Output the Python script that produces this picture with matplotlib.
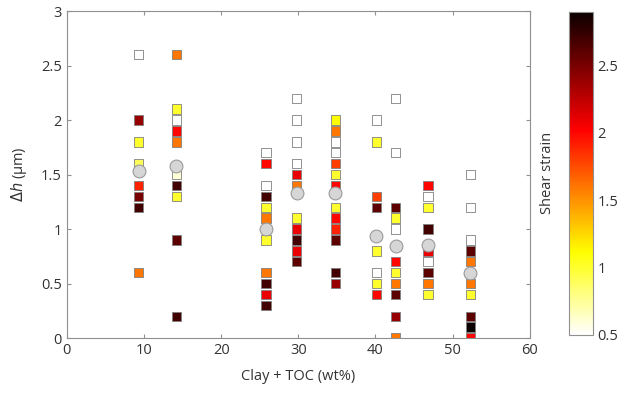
import numpy as np
import matplotlib.pyplot as plt

plt.rcParams['font.family'] = ['Open Sans', 'DejaVu Sans']

# clay + TOC content of each sample (wt%)
clay_toc = [9.3, 14.2, 25.8, 29.8, 34.8, 40.1, 42.6, 46.8, 52.3]

# step heights measured per sample (um)
dh = [
    [2.6, 2.0, 1.8, 1.6, 1.4, 1.3, 1.2, 0.6],
    [2.6, 2.1, 2.0, 1.9, 1.8, 1.5, 1.4, 1.3, 0.9, 0.2],
    [1.7, 1.6, 1.4, 1.3, 1.2, 1.1, 0.9, 0.6, 0.5, 0.4, 0.3],
    [2.2, 2.0, 1.8, 1.6, 1.5, 1.4, 1.1, 1.0, 0.9, 0.8, 0.7],
    [2.0, 1.9, 1.8, 1.7, 1.6, 1.5, 1.4, 1.2, 1.1, 1.0, 0.9, 0.6, 0.5],
    [2.0, 1.8, 1.3, 1.2, 0.8, 0.6, 0.5, 0.4],
    [2.2, 1.7, 1.2, 1.1, 1.0, 0.7, 0.6, 0.5, 0.4, 0.2, 0.0],
    [1.4, 1.3, 1.2, 1.0, 0.8, 0.7, 0.6, 0.5, 0.4],
    [1.5, 1.2, 0.9, 0.8, 0.7, 0.5, 0.4, 0.2, 0.1, 0.0],
]

# shear strain of each measurement
strain = [
    [0.5, 2.4, 1.0, 0.9, 1.9, 2.5, 2.7, 1.6],
    [1.6, 1.0, 0.5, 2.0, 1.6, 0.6, 2.7, 1.0, 2.6, 2.7],
    [0.5, 2.0, 0.5, 2.7, 1.0, 1.6, 1.0, 1.6, 2.7, 2.1, 2.7],
    [0.5, 0.5, 0.5, 0.5, 2.1, 1.6, 1.0, 2.1, 2.7, 2.1, 2.6],
    [1.1, 1.6, 0.5, 0.5, 1.8, 1.0, 2.0, 1.0, 2.0, 1.9, 2.6, 2.7, 2.4],
    [0.5, 1.0, 1.8, 2.6, 1.0, 0.5, 1.0, 2.0],
    [0.5, 0.5, 2.6, 1.0, 0.5, 2.0, 1.0, 1.6, 2.6, 2.4, 1.6],
    [2.0, 0.5, 1.0, 2.7, 2.1, 0.5, 2.6, 1.6, 1.0],
    [0.5, 0.5, 0.5, 2.6, 1.6, 1.6, 1.0, 2.6, 2.9, 2.0],
]

# mean step height per sample
dh_mean = [1.53, 1.58, 1.0, 1.33, 1.33, 0.94, 0.84, 0.85, 0.6]

fig = plt.figure(figsize=(6.3, 3.94), dpi=100)
ax = fig.add_axes([0.106, 0.142, 0.735, 0.830])

for x, ys, cs in zip(clay_toc, dh, strain):
    sc = ax.scatter([x] * len(ys), ys, c=cs, cmap='hot_r', vmin=0.5, vmax=2.9,
                    marker='s', s=46, edgecolors='#808080', linewidths=0.6,
                    zorder=2)

ax.scatter(clay_toc, dh_mean, s=85, marker='o', facecolor='#d6d6d6',
           edgecolors='#9a9a9a', linewidths=0.8, zorder=3)

ax.set_xlim(0, 60)
ax.set_ylim(0, 3)
ax.set_xticks(np.arange(0, 61, 10))
ax.set_yticks([0, 0.5, 1, 1.5, 2, 2.5, 3])
ax.set_yticklabels(['0', '0.5', '1', '1.5', '2', '2.5', '3'])
ax.tick_params(direction='in', length=3, color='#909090', labelsize=10.5,
               labelcolor='#333333', top=True, right=True)
for sp in ax.spines.values():
    sp.set_color('#909090')
ax.set_xlabel('Clay + TOC (wt%)', fontsize=10.5, color='#333333', labelpad=8)
ax.set_ylabel(r'$\Delta h$ (µm)', fontsize=10.5, color='#333333', labelpad=9)

cax = fig.add_axes([0.903, 0.150, 0.038, 0.820])
cb = fig.colorbar(sc, cax=cax)
cb.set_ticks([0.5, 1, 1.5, 2, 2.5])
cb.set_ticklabels(['0.5', '1', '1.5', '2', '2.5'])
cb.ax.tick_params(labelsize=10.5, labelcolor='#333333', length=0)
cb.outline.set_edgecolor('#909090')
cb.set_label('Shear strain', fontsize=10.5, color='#333333', labelpad=10)
cb.ax.yaxis.set_label_position('left')

fig.savefig('out.png', dpi=100)
